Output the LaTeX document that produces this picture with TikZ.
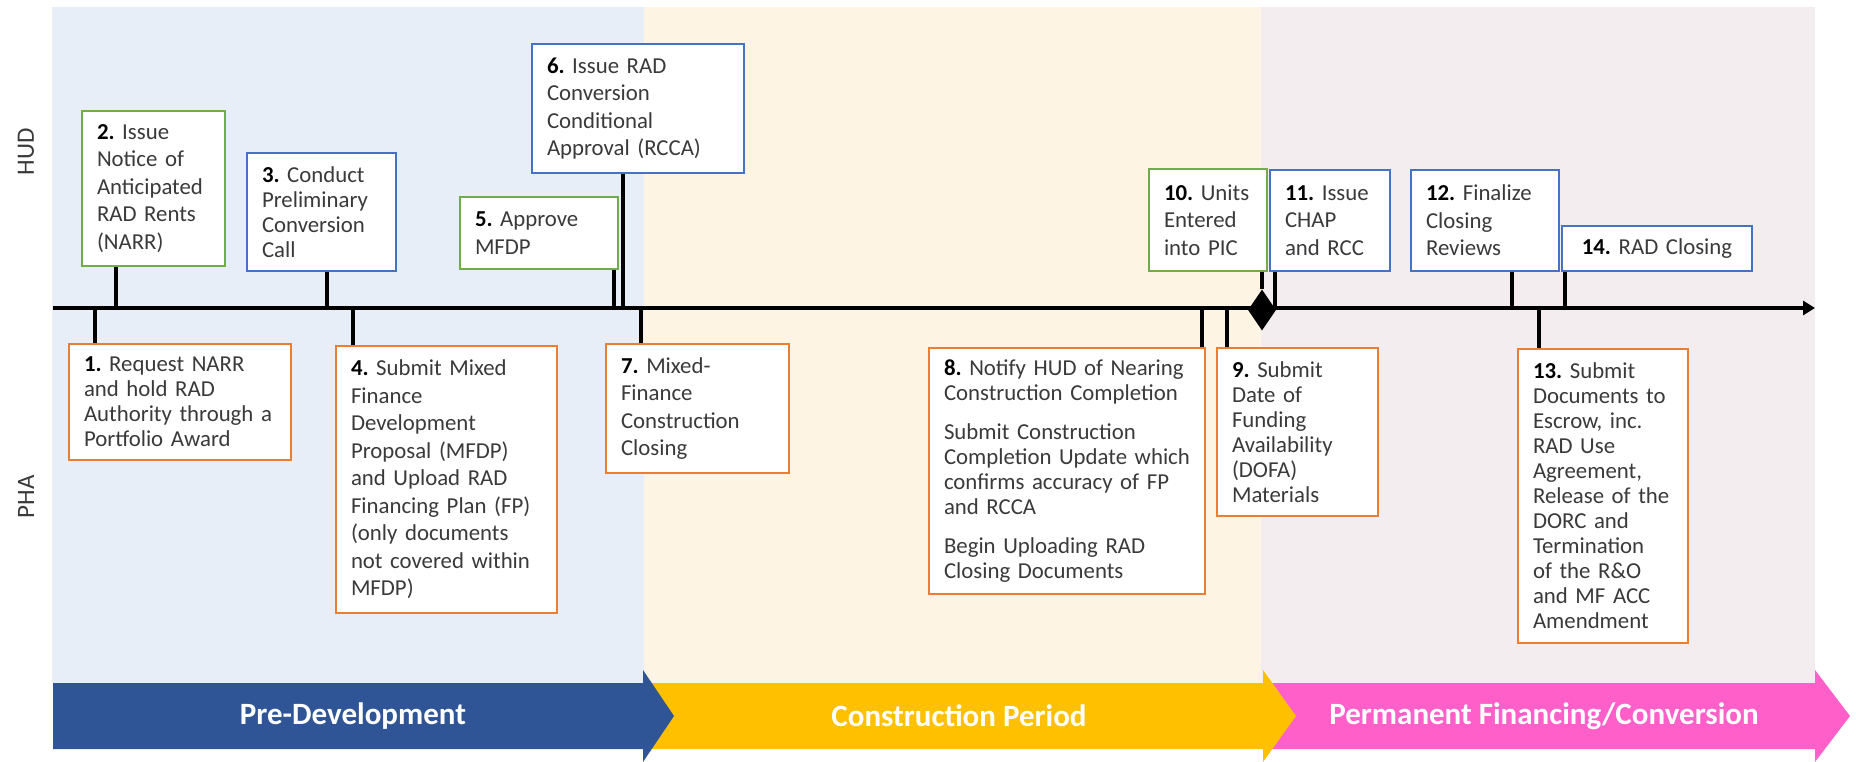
\documentclass[tikz,border=0pt]{standalone}
\usepackage{fontspec}
\setmainfont{Carlito}
\usetikzlibrary{arrows.meta,shapes.geometric}
\frenchspacing

\definecolor{hudgreen}{HTML}{70AD47}
\definecolor{hudblue}{HTML}{4472C4}
\definecolor{phaorange}{HTML}{ED7D31}
\definecolor{predev}{HTML}{2F5597}
\definecolor{constr}{HTML}{FFC000}
\definecolor{permfin}{HTML}{FF5FC8}
\definecolor{predevbg}{HTML}{E8EEF7}
\definecolor{constrbg}{HTML}{FEF4E3}
\definecolor{permfinbg}{HTML}{F4EDF0}
\definecolor{txtgrey}{HTML}{3A3A3A}

\def\stepno#1{\textcolor{black}{\textbf{#1}}}

\tikzset{
	stepbox/.style={draw=#1, line width=2pt, fill=white, anchor=north west, align=left, inner xsep=15pt, inner ysep=4pt, text=txtgrey, font=\fontsize{22.8}{27.5}\selectfont},
	tight/.style={font=\fontsize{22.8}{25}\selectfont},
	link/.style={line width=3.5pt},
	phase/.style={text=white, font=\bfseries\fontsize{31}{36}\selectfont},
	lane/.style={text=txtgrey, rotate=90, font=\fontsize{25}{30}\selectfont}
}

\begin{document}
\begin{tikzpicture}[x=1pt, y=-1pt]
			%%%%% START %%%%%
			\useasboundingbox (0,0) rectangle (1856,762);
			
			\fill[predevbg] (52,7) rectangle (644,683);
			\fill[constrbg] (644,7) rectangle (1261,683);
			\fill[permfinbg] (1261,7) rectangle (1815,683);
			
			\fill[permfin] (1263,683) -- (1815,683) -- (1815,670) -- (1850,716) -- (1815,762) -- (1815,749) -- (1263,749) -- cycle;
			\fill[constr] (643,683) -- (1263,683) -- (1263,670) -- (1296,716) -- (1263,762) -- (1263,749) -- (643,749) -- cycle;
			\fill[predev] (53,683) -- (643,683) -- (643,670) -- (674,716) -- (643,762) -- (643,749) -- (53,749) -- cycle;
			
			\node[phase] (pre) at (353,716) {Pre-Development};
			\node[phase] (con) at (959,716) {Construction Period};
			\node[phase] (perm) at (1544,716) {Permanent Financing/Conversion};
			
			\node[lane] (hud) at (26,152) {HUD};
			\node[lane] (pha) at (26,497) {PHA};
			
			\coordinate (tl0) at (53,308);
			\coordinate (tl1) at (1815,308);
			\draw[line width=4pt, -{Triangle[length=12pt,width=14pt]}] (tl0) -- (tl1);
			
			\coordinate (t1) at (95,308);
			\coordinate (t2) at (116,308);
			\coordinate (t3) at (327,308);
			\coordinate (t4) at (353,308);
			\coordinate (t5) at (614,308);
			\coordinate (t6) at (623,308);
			\coordinate (t7) at (641,308);
			\coordinate (t8) at (1202,308);
			\coordinate (t9) at (1227,308);
			\coordinate (t11) at (1275,308);
			\coordinate (t12) at (1512,308);
			\coordinate (t13) at (1539,308);
			\coordinate (t14) at (1565,308);
			
			% HUD side
			\node[stepbox=hudgreen, text width=113, minimum height=155] (b2) at (81,110) {\stepno{2.} Issue\\Notice of\\Anticipated\\RAD Rents\\(NARR)};
			\node[stepbox=hudblue, tight, text width=119, minimum height=118] (b3) at (246,152) {\stepno{3.} Conduct\\Preliminary\\Conversion\\Call};
			\node[stepbox=hudgreen, text width=128, minimum height=72] (b5) at (459,196) {\stepno{5.} Approve\\MFDP};
			\node[stepbox=hudblue, text width=182, minimum height=129] (b6) at (531,43) {\stepno{6.} Issue RAD\\Conversion\\Conditional\\Approval (RCCA)};
			\node[stepbox=hudgreen, text width=88, minimum height=102] (b10) at (1148,168) {\stepno{10.}~Units\\Entered\\into PIC};
			\node[stepbox=hudblue, text width=90, minimum height=101] (b11) at (1269,169) {\stepno{11.} Issue\\CHAP\\and RCC};
			\node[stepbox=hudblue, text width=118, minimum height=101] (b12) at (1410,169) {\stepno{12.} Finalize\\Closing\\Reviews};
			\node[stepbox=hudblue, align=center, text width=160, minimum height=45] (b14) at (1561,225) {\stepno{14.} RAD Closing};
			
			% PHA side
			\node[stepbox=phaorange, tight, text width=192, minimum height=116] (b1) at (68,343) {\stepno{1.} Request NARR\\and hold RAD\\Authority through a\\Portfolio Award};
			\node[stepbox=phaorange, text width=191, minimum height=267] (b4) at (335,345) {\stepno{4.} Submit Mixed\\Finance\\Development\\Proposal (MFDP)\\and Upload RAD\\Financing Plan (FP)\\(only documents\\not covered within\\MFDP)};
			\node[stepbox=phaorange, text width=153, minimum height=129] (b7) at (605,343) {\stepno{7.} Mixed-\\Finance\\Construction\\Closing};
			\node[stepbox=phaorange, tight, text width=246, minimum height=246] (b8) at (928,347) {\stepno{8.} Notify HUD of Nearing\\Construction Completion\\[14pt]Submit Construction\\Completion~Update~which\\confirms accuracy of FP\\and RCCA\\[14pt]Begin Uploading RAD\\Closing Documents};
			\node[stepbox=phaorange, tight, text width=131, minimum height=168] (b9) at (1216,347) {\stepno{9.} Submit\\Date of\\Funding\\Availability\\(DOFA)\\Materials};
			\node[stepbox=phaorange, tight, text width=140, minimum height=294] (b13) at (1517,348) {\stepno{13.} Submit\\Documents~to\\Escrow, inc.\\RAD Use\\Agreement,\\Release~of~the\\DORC and\\Termination\\of the R\&O\\and MF ACC\\Amendment};
			
			\node[diamond, fill=black, minimum width=28, minimum height=41, inner sep=0] (dfa) at (1262,310) {};
			
			\draw[link] (b2.south -| t2) -- (t2);
			\draw[link] (b3.south -| t3) -- (t3);
			\draw[link] (b5.south -| t5) -- (t5);
			\draw[link] (b6.south -| t6) -- (t6);
			\draw[link] (b10.south -| dfa) -- (dfa.north);
			\draw[link] (b11.south -| t11) -- (t11);
			\draw[link] (b12.south -| t12) -- (t12);
			\draw[link] (b14.south -| t14) -- (t14);
			
			\draw[link] (t1) -- (b1.north -| t1);
			\draw[link] (t4) -- (b4.north -| t4);
			\draw[link] (t7) -- (b7.north -| t7);
			\draw[link] (t8) -- (b8.north -| t8);
			\draw[link] (t9) -- (b9.north -| t9);
			\draw[link] (t13) -- (b13.north -| t13);
			
			%%%%% END %%%%%
\end{tikzpicture}
\end{document}
